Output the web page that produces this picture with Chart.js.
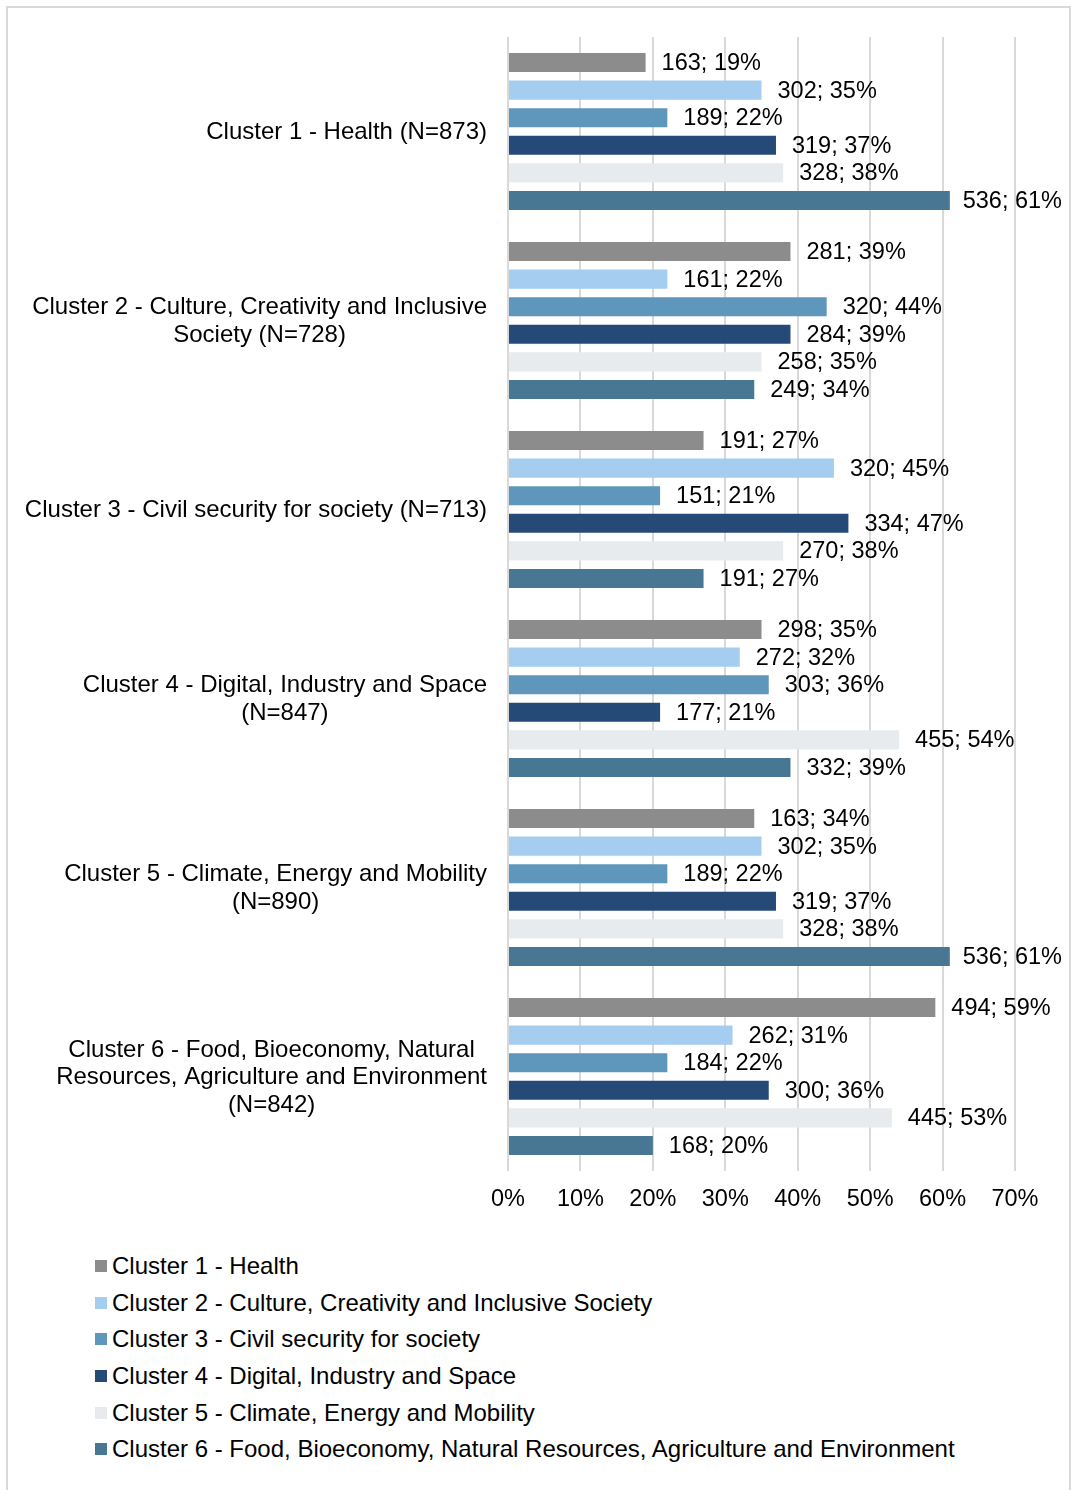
<!DOCTYPE html>
<html>
<head>
<meta charset="utf-8">
<script src="https://cdn.jsdelivr.net/npm/chart.js@4/dist/chart.umd.min.js"></script>
<style>
  html, body { margin: 0; padding: 0; background: #ffffff; }
  body { width: 1072px; height: 1490px; position: relative; overflow: hidden;
         font-family: "Liberation Sans", Arial, sans-serif; }
  #frame { position: absolute; left: 6px; top: 6px; width: 1065px; height: 1500px;
           box-sizing: border-box; border: 2px solid #d9d9d9; }
  #wrap { position: absolute; left: 0; top: 0; width: 1072px; height: 1230px; }
  #legend { position: absolute; left: 95px; top: 1248px; margin: 0; padding: 0; list-style: none; }
  #legend li { height: 36.6px; display: flex; align-items: center; font-size: 24px; color: #000; white-space: nowrap; }
  #legend .sw { width: 12px; height: 12px; margin-right: 5px; flex: none; }
</style>
</head>
<body>
<div id="frame"></div>
<div id="wrap"><canvas id="chart"></canvas></div>
<ul id="legend"></ul>
<script>
(function () {
  "use strict";

  // Eixo de categorias (rótulos em várias linhas)
  var categories = [
    ["Cluster 1 - Health (N=873)"],
    ["Cluster 2 - Culture, Creativity and Inclusive", "Society (N=728)"],
    ["Cluster 3 - Civil security for society (N=713)"],
    ["Cluster 4 - Digital, Industry and Space", "(N=847)"],
    ["Cluster 5 - Climate, Energy and Mobility", "(N=890)"],
    ["Cluster 6 - Food, Bioeconomy, Natural", "Resources, Agriculture and Environment", "(N=842)"]
  ];

  var seriesNames = [
    "Cluster 1 - Health",
    "Cluster 2 - Culture, Creativity and Inclusive Society",
    "Cluster 3 - Civil security for society",
    "Cluster 4 - Digital, Industry and Space",
    "Cluster 5 - Climate, Energy and Mobility",
    "Cluster 6 - Food, Bioeconomy, Natural Resources, Agriculture and Environment"
  ];

  // contagens e percentuais por série (uma posição por categoria)
  var counts1 = [163, 281, 191, 298, 163, 494];
  var pct1 = [19, 39, 27, 35, 34, 59];
  var counts2 = [302, 161, 320, 272, 302, 262];
  var pct2 = [35, 22, 45, 32, 35, 31];
  var counts3 = [189, 320, 151, 303, 189, 184];
  var pct3 = [22, 44, 21, 36, 22, 22];
  var counts4 = [319, 284, 334, 177, 319, 300];
  var pct4 = [37, 39, 47, 21, 37, 36];
  var counts5 = [328, 258, 270, 455, 328, 445];
  var pct5 = [38, 35, 38, 54, 38, 53];
  var counts6 = [536, 249, 191, 332, 536, 168];
  var pct6 = [61, 34, 27, 39, 61, 20];

  var xTicks = [0, 10, 20, 30, 40, 50, 60, 70];

  var COLORS = ["#8c8c8c", "#a4cdf0", "#5f96bc", "#264a78", "#e7ebee", "#477793"];
  var FONT = "'Liberation Sans', Arial, sans-serif";

  var allCounts = [counts1, counts2, counts3, counts4, counts5, counts6];
  var allPct = [pct1, pct2, pct3, pct4, pct5, pct6];

  var datasets = seriesNames.map(function (name, i) {
    return {
      label: name,
      data: allPct[i],
      counts: allCounts[i],
      backgroundColor: COLORS[i],
      borderWidth: 0,
      categoryPercentage: 0.876,
      barPercentage: 0.69
    };
  });

  // rótulos "n; pct%" ao fim de cada barra; recuam se passariam da moldura
  var barLabels = {
    id: "barLabels",
    afterDatasetsDraw: function (chart) {
      var ctx = chart.ctx;
      var maxRight = chart.width - 10;
      ctx.save();
      ctx.font = "23.5px " + FONT;
      ctx.fillStyle = "#000000";
      ctx.textAlign = "left";
      ctx.textBaseline = "middle";
      chart.data.datasets.forEach(function (ds, d) {
        chart.getDatasetMeta(d).data.forEach(function (bar, i) {
          var text = ds.counts[i] + "; " + ds.data[i] + "%";
          var x = Math.min(bar.x + 16, maxRight - ctx.measureText(text).width);
          ctx.fillText(text, x, bar.y + 1);
        });
      });
      ctx.restore();
    }
  };

  // rótulos do eixo y: bloco alinhado à direita, linhas centradas
  var categoryLabels = {
    id: "categoryLabels",
    afterDraw: function (chart) {
      var ctx = chart.ctx;
      var yScale = chart.scales.y;
      var right = chart.chartArea.left - 21;
      var lh = 27.5;
      ctx.save();
      ctx.font = "24px " + FONT;
      ctx.fillStyle = "#000000";
      ctx.textAlign = "center";
      ctx.textBaseline = "middle";
      chart.data.labels.forEach(function (lines, i) {
        var w = 0;
        lines.forEach(function (l) { w = Math.max(w, ctx.measureText(l).width); });
        var cx = right - w / 2;
        var cy = yScale.getPixelForValue(i);
        var y0 = cy - (lines.length - 1) * lh / 2;
        lines.forEach(function (l, k) { ctx.fillText(l, cx, y0 + k * lh + 1); });
      });
      ctx.restore();
    }
  };

  new Chart(document.getElementById("chart"), {
    type: "bar",
    data: { labels: categories, datasets: datasets },
    plugins: [barLabels, categoryLabels],
    options: {
      indexAxis: "y",
      responsive: true,
      maintainAspectRatio: false,
      animation: false,
      layout: { padding: { left: 508, right: 57, top: 37, bottom: 0 } },
      scales: {
        x: {
          min: 0,
          max: 70,
          afterBuildTicks: function (scale) {
            scale.ticks = xTicks.map(function (v) { return { value: v }; });
          },
          afterFit: function (scale) { scale.height = 59; },
          grid: { color: "#d9d9d9", lineWidth: 2, drawTicks: false },
          border: { display: false },
          ticks: {
            padding: 14,
            color: "#000000",
            font: { family: FONT, size: 23.5 },
            callback: function (v) { return v + "%"; }
          }
        },
        y: { display: false }
      },
      plugins: {
        legend: { display: false },
        tooltip: { enabled: false }
      }
    }
  });

  // legenda vertical
  var legend = document.getElementById("legend");
  seriesNames.forEach(function (name, i) {
    var li = document.createElement("li");
    var sw = document.createElement("span");
    sw.className = "sw";
    sw.style.background = COLORS[i];
    li.appendChild(sw);
    li.appendChild(document.createTextNode(name));
    legend.appendChild(li);
  });
})();
</script>
</body>
</html>
